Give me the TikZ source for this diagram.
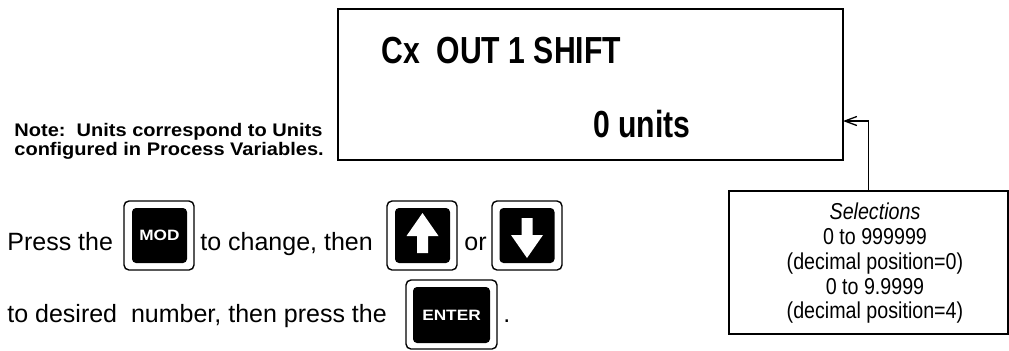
\documentclass[tikz,border=0pt]{standalone}
\usepackage{fontspec}
\setmainfont{Liberation Sans}
\newfontfamily\dispfont{Liberation Sans}[FakeStretch=0.8]
\newfontfamily\selfont{Liberation Sans}[FakeStretch=0.855]
\newfontfamily\notefont{Liberation Sans}[FakeStretch=1.1]
\newfontfamily\keyfont{Liberation Sans}[FakeStretch=1.15]
\usetikzlibrary{arrows.meta}

\begin{document}
\begin{tikzpicture}[x=0.5pt, y=-0.5pt,
  txt/.style={anchor=base west, inner sep=0pt, font=\fontsize{12.5}{15}\selectfont},
  disptxt/.style={anchor=base west, inner sep=0pt, font=\dispfont\bfseries\fontsize{18.85}{22}\selectfont},
  notetxt/.style={anchor=base west, inner sep=0pt, font=\notefont\bfseries\fontsize{9.1}{11}\selectfont},
  seltxt/.style={anchor=base, inner sep=0pt, font=\selfont\fontsize{11.5}{13}\selectfont},
  keyouter/.style={draw, line width=0.7pt, rounded corners=2.5pt, fill=white, inner sep=0pt},
  keyinner/.style={fill=black, rounded corners=2pt, inner sep=0pt, text=white,
    font=\keyfont\bfseries\fontsize{7.5}{9}\selectfont}]
  \useasboundingbox (0,0) rectangle (1009,350);

  % display window
  \node[draw, line width=1pt, minimum width=252.5pt, minimum height=75.5pt, inner sep=0pt] (display) at (590.5,84.5) {};
  \node[disptxt] (title) at (381,63) {Cx\ \ OUT 1 SHIFT};
  \node[disptxt] (value) at (593,137) {0 units};

  % note on the left
  \node[notetxt] (note1) at (14,136) {Note:\ \ Units correspond to Units};
  \node[notetxt] (note2) at (14,155) {configured in Process Variables.};

  % selections box and its pointer
  \node[draw, line width=0.9pt, minimum width=139.5pt, minimum height=71.5pt, inner sep=0pt] (selbox) at (868.5,262.5) {};
  \node[seltxt, font=\selfont\itshape\fontsize{11.5}{13}\selectfont] (selhead) at (875,219) {Selections};
  \foreach \t/\y [count=\i] in {0 to 999999/244, (decimal position=0)/269, 0 to 9.9999/294, (decimal position=4)/318}
    \node[seltxt] (sel\i) at (875,\y) {\t};
  \coordinate (hit) at (843,121);
  \draw[line width=0.65pt, -{Straight Barb[length=6pt, width=4.5pt]}] (selbox.north) |- (hit);

  % instruction text
  \node[txt] (press) at (7,250) {Press the};
  \node[txt] (change) at (200,250) {to change, then};
  \node[txt] (or) at (464,250) {or};
  \node[txt] (desired) at (7,322) {to desired\ \ number, then press the};
  \node[txt] (dot) at (503,322) {.};

  % keys
  \node[keyouter, minimum width=35pt, minimum height=34.5pt] (modout) at (159,235.5) {};
  \node[keyinner, minimum width=27.5pt, minimum height=27.5pt] (mod) at (159.5,235.5) {MOD};
  \node[keyouter, minimum width=35pt, minimum height=34.5pt] (upout) at (422,235.5) {};
  \node[keyinner, minimum width=27.5pt, minimum height=27.5pt] (up) at (422.5,235.5) {};
  \node[keyouter, minimum width=35pt, minimum height=34.5pt] (downout) at (527,235.5) {};
  \node[keyinner, minimum width=27.5pt, minimum height=27.5pt] (down) at (527,235.5) {};
  \node[keyouter, minimum width=45.5pt, minimum height=34.5pt] (enterout) at (451.5,314.5) {};
  \node[keyinner, minimum width=38.5pt, minimum height=28pt] (enter) at (451.5,315) {ENTER};

  % white arrows on the up and down keys
  \fill[white, shift={(up.center)}] (0,-22.5) -- (16,0.5) -- (5.5,0.5) -- (5.5,17.5)
    -- (-5.5,17.5) -- (-5.5,0.5) -- (-16,0.5) -- cycle;
  \fill[white, shift={(down.center)}] (0,22.5) -- (16,-0.5) -- (5.5,-0.5) -- (5.5,-17.5)
    -- (-5.5,-17.5) -- (-5.5,-0.5) -- (-16,-0.5) -- cycle;
\end{tikzpicture}
\end{document}
